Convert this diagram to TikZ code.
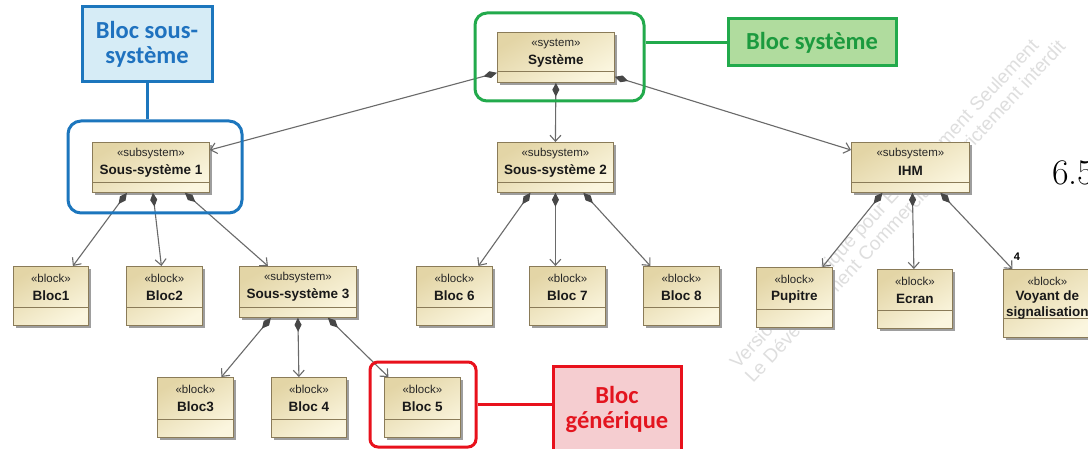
\documentclass[tikz,border=0pt]{standalone}
\usepackage{fontspec}
\newfontfamily\umlfont{Liberation Sans}
\newfontfamily\calloutfont{Carlito}
\usetikzlibrary{arrows.meta,calc,shadows}

\definecolor{boxline}{HTML}{8A7B58}
\definecolor{boxdark}{HTML}{E3D5A6}
\definecolor{boxlight}{HTML}{FBF6DF}
\definecolor{linkgray}{HTML}{6A6A6A}
\definecolor{bluedraw}{HTML}{1C76BD}
\definecolor{bluefill}{HTML}{D6ECF6}
\definecolor{bluetext}{HTML}{1F72BF}
\definecolor{greendraw}{HTML}{22AA4C}
\definecolor{greenfill}{HTML}{B0DC9E}
\definecolor{greentext}{HTML}{1C9A3E}
\definecolor{reddraw}{HTML}{E8111C}
\definecolor{redfill}{HTML}{F5CDD0}
\definecolor{redtext}{HTML}{E3151F}

\tikzset{
  umlbox/.style={draw=boxline, line width=0.8pt, inner sep=0pt,
    top color=boxdark, bottom color=boxlight, shading angle=30,
    general shadow={fill=black!38, shadow xshift=2.5pt, shadow yshift=-2.5pt}},
  umldiv/.style={draw=boxline, line width=0.7pt},
  stereo/.style={font=\umlfont\fontsize{11.5}{12}\selectfont, inner sep=0pt, text=black!85},
  bname/.style={font=\umlfont\bfseries\fontsize{13.5}{16}\selectfont, inner sep=0pt, align=center, text=black!90},
  comp/.style={draw=linkgray, line width=1.1pt,
    {Diamond[length=14pt,width=7pt,color=black!72]}-{Straight Barb[length=6pt,width=11pt]}},
  group/.style={line width=3pt, rounded corners=13pt, inner sep=0pt},
  label/.style={line width=3pt, inner sep=0pt, align=center,
    font=\calloutfont\bfseries\fontsize{24.5}{25}\selectfont},
  watermark/.style={font=\umlfont\fontsize{19}{19}\selectfont, text=black!13,
    rotate=47, anchor=base west, inner sep=0pt}
}

% #1 name, #2 left, #3 top, #4 width, #5 height, #6 lower compartment,
% #7 stereotype, #8 element name, #9 vertical position of the name
\newcommand\umlblock[9]{%
  \node[umlbox, minimum width=#4pt, minimum height=#5pt, anchor=north west] (#1) at (#2,#3) {};
  \draw[umldiv] ($(#1.south west)+(0pt,#6pt)$) -- ($(#1.south east)+(0pt,#6pt)$);
  \node[stereo] (#1-st) at ($(#1.north)+(0pt,-12pt)$) {«#7»};
  \node[bname] (#1-nm) at ($(#1.north)+(0pt,-#9pt)$) {#8};
}

% one watermark line, set word by word along a 47 degree baseline
\newcommand\wmline[3]{%
  \coordinate (#1) at (#2);
  \foreach \w [count=\i] in {#3} {
    \node[watermark] (#1-\i) at (#1) {\w};
    \path (#1-\i.base east) ++(47:5.3pt) coordinate (#1);
  }%
}

\begin{document}
\begin{tikzpicture}[x=1pt,y=-1pt]
\useasboundingbox (0,0) rectangle (1088,449);
\clip (0,0) rectangle (1088,449);
\fill[white] (0,0) rectangle (1088,449);

% licence watermark behind the diagram
\wmline{wma}{738,370}{Version,Académique,pour,Enseignement,Seulement}
\wmline{wmb}{753,384}{Le,Développement,Commercial,est,strictement,interdit}

% system and subsystems
\umlblock{sys}{497}{32}{117}{50}{11}{system}{Système}{29}
\umlblock{ss1}{92}{142}{117}{50}{10}{subsystem}{Sous-système 1}{29}
\umlblock{ss2}{497}{142}{116}{50}{10}{subsystem}{Sous-système 2}{29}
\umlblock{ihm}{851}{142}{118}{50}{10}{subsystem}{IHM}{29}
\umlblock{ss3}{239}{266}{117}{51}{10}{subsystem}{Sous-système 3}{29}

% blocks
\umlblock{b1}{13}{266}{75}{59}{18}{block}{Bloc1}{30}
\umlblock{b2}{126}{266}{76}{59}{18}{block}{Bloc2}{30}
\umlblock{b6}{416}{266}{76}{59}{18}{block}{Bloc 6}{30}
\umlblock{b7}{529}{266}{76}{59}{18}{block}{Bloc 7}{30}
\umlblock{b8}{643}{266}{76}{59}{18}{block}{Bloc 8}{30}
\umlblock{pup}{756}{267}{76}{60}{18}{block}{Pupitre}{30}
\umlblock{ecr}{877}{269}{75}{59}{18}{block}{Ecran}{30}
\umlblock{voy}{1003}{269}{88}{68}{19}{block}{Voyant de\\signalisation}{36}
\umlblock{b3}{157}{377}{76}{60}{18}{block}{Bloc3}{30}
\umlblock{b4}{271}{377}{75}{60}{18}{block}{Bloc 4}{30}
\umlblock{b5}{384}{377}{76}{60}{18}{block}{Bloc 5}{30}

% composition links
\draw[comp] ($(sys.south west)+(0pt,10pt)$) -- ($(ss1.north east)+(0pt,-8pt)$);
\draw[comp] (sys.south) -- (ss2.north);
\draw[comp] ($(sys.south east)+(0pt,6pt)$) -- ($(ihm.north west)+(0pt,-8pt)$);

\draw[comp] ($(ss1.south)+(-24pt,0pt)$) -- ($(b1.north)+(22pt,0pt)$);
\draw[comp] ($(ss1.south)+(2pt,0pt)$) -- ($(b2.north)+(-3pt,0pt)$);
\draw[comp] ($(ss1.south)+(34pt,0pt)$) -- ($(ss3.north)+(-30pt,0pt)$);

\draw[comp] ($(ss3.south)+(-27pt,0pt)$) -- ($(b3.north)+(26pt,0pt)$);
\draw[comp] (ss3.south) -- ($(b4.north)+(-10pt,0pt)$);
\draw[comp] ($(ss3.south)+(30pt,0pt)$) -- ($(b5.north)+(-34pt,0pt)$);

\draw[comp] ($(ss2.south)+(-25pt,0pt)$) -- ($(b6.north)+(24pt,0pt)$);
\draw[comp] (ss2.south) -- ($(b7.north)+(-12pt,0pt)$);
\draw[comp] ($(ss2.south)+(28pt,0pt)$) -- ($(b8.north)+(-31pt,0pt)$);

\draw[comp] ($(ihm.south)+(-28pt,0pt)$) -- ($(pup.north)+(28pt,0pt)$);
\draw[comp] ($(ihm.south)+(2pt,0pt)$) -- ($(ecr.north)+(-1pt,0pt)$);
\draw[comp] ($(ihm.south)+(30pt,0pt)$) -- ($(voy.north)+(-35pt,0pt)$);
\node[font=\umlfont\bfseries\fontsize{11}{11}\selectfont, inner sep=0pt] (mult) at (1017,257) {4};

% callout: subsystem block
\node[group, draw=bluedraw, minimum width=174pt, minimum height=92pt] (bluegrp) at (155,167) {};
\node[label, draw=bluedraw, fill=bluefill, text=bluetext, minimum width=130pt, minimum height=75pt] (bluelbl) at (147,44.5) {Bloc sous-\\système};
\draw[bluedraw, line width=3pt] (bluelbl.south) -- (bluelbl.south |- bluegrp.north);

% callout: system block
\node[group, draw=greendraw, rounded corners=12pt, minimum width=169pt, minimum height=88pt] (greengrp) at (559.5,57) {};
\node[label, draw=greendraw, fill=greenfill, text=greentext, minimum width=168pt, minimum height=47pt] (greenlbl) at (812,42.5) {Bloc système};
\draw[greendraw, line width=3pt] (greengrp.east |- greenlbl.west) -- (greenlbl.west);

% callout: generic block
\node[group, draw=reddraw, rounded corners=8pt, minimum width=106pt, minimum height=85pt] (redgrp) at (423,404.5) {};
\node[label, draw=reddraw, fill=redfill, text=redtext, minimum width=128pt, minimum height=86pt] (redlbl) at (617,409) {Bloc\\générique};
\draw[reddraw, line width=3pt] (redgrp.east) -- (redgrp.east -| redlbl.west);

% section number at the page edge
\node[anchor=base west, inner sep=0pt, font=\fontsize{36}{36}\selectfont] (secnum) at (1052,185) {6.5};
\end{tikzpicture}
\end{document}
